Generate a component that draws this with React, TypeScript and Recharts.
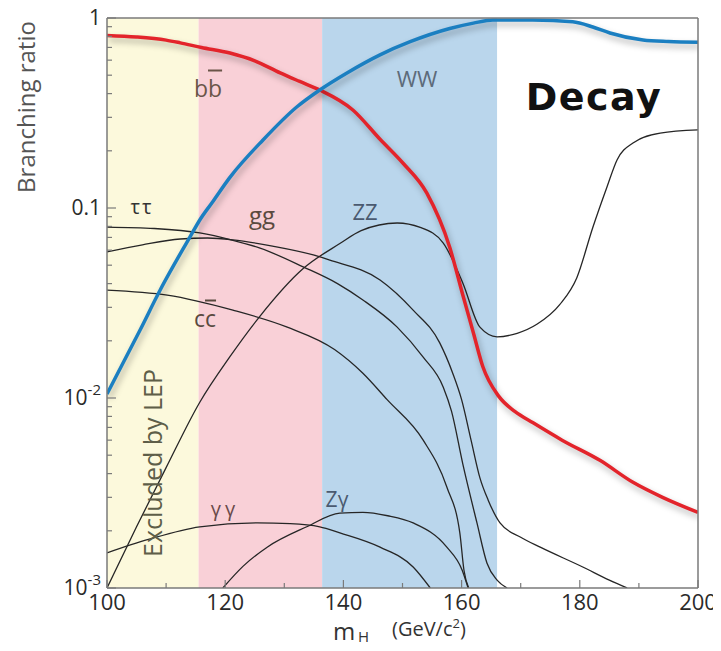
import React from 'react';
import { LineChart, Line, XAxis, YAxis, ReferenceArea } from 'recharts';

type Pair = [number, number];

// Higgs mass (GeV/c^2) vs branching ratio
const bbCurve: Pair[] = [
  [100, 0.81], [105, 0.795], [110, 0.765], [112.4, 0.74], [116, 0.7], [120.8, 0.654],
  [125, 0.595], [129.3, 0.514], [132.5, 0.465], [136, 0.418], [141.6, 0.328], [146.2, 0.23],
  [150.1, 0.172], [154.1, 0.12], [158, 0.062], [160.3, 0.034], [162, 0.022], [163.6, 0.0146],
  [166.3, 0.0102], [169, 0.0085], [172.1, 0.0074], [177, 0.006], [183.4, 0.0047],
  [189, 0.0036], [194, 0.003], [200, 0.0025],
];
const wwCurve: Pair[] = [
  [100, 0.0105], [105.6, 0.0228], [109, 0.037], [114, 0.07], [115.7, 0.0865], [117.8, 0.107],
  [120.8, 0.145], [126.4, 0.228], [132.1, 0.34], [136, 0.418], [140.6, 0.514], [146.2, 0.64],
  [151.3, 0.75], [158, 0.88], [162, 0.94], [165.3, 0.976], [172, 0.975], [178.8, 0.955],
  [182.2, 0.897], [185.1, 0.834], [190.7, 0.766], [195, 0.752], [200, 0.745],
];
const zzCurve: Pair[] = [
  [100, 0.001], [105, 0.0021], [110, 0.0043], [115.7, 0.0095], [120.8, 0.0165], [125.9, 0.027],
  [133.2, 0.048], [139.4, 0.065], [143, 0.076], [149.1, 0.0834], [153, 0.079], [156.9, 0.0654],
  [160.2, 0.0403], [163.1, 0.0236], [166, 0.021], [169.4, 0.0219], [172.8, 0.0245],
  [176.6, 0.031], [179.5, 0.043], [182.2, 0.079], [184.6, 0.129], [186.3, 0.179],
  [189, 0.22], [193.6, 0.248], [200, 0.258],
];
const ggCurve: Pair[] = [
  [100, 0.0587], [106, 0.064], [112.4, 0.0687], [117, 0.0695], [121.3, 0.068], [128, 0.063],
  [134.9, 0.0566], [137.7, 0.0532], [146.2, 0.0418], [151.8, 0.029], [156.3, 0.0195],
  [158.5, 0.0135], [160, 0.0098], [161.6, 0.006], [163.1, 0.0038], [164.5, 0.0029],
  [166.5, 0.0022], [170, 0.00185], [173.3, 0.00164], [180.5, 0.00129], [185, 0.0011], [188, 0.001],
];
const tautauCurve: Pair[] = [
  [100, 0.0794], [108, 0.078], [115.7, 0.0739], [121, 0.068], [125.9, 0.0615], [133.2, 0.049],
  [139, 0.04], [143.3, 0.0328], [149.1, 0.0236], [153.5, 0.0164], [156.9, 0.0114],
  [158.3, 0.0085], [160.2, 0.0045], [162.6, 0.0022], [164.3, 0.00135], [166, 0.0011], [167.7, 0.001],
];
const ccCurve: Pair[] = [
  [100, 0.037], [110.2, 0.0348], [121.3, 0.029], [130.5, 0.0236], [138.5, 0.018], [143.3, 0.0135],
  [147.4, 0.0098], [153.5, 0.006], [157.5, 0.0034], [159.7, 0.00195], [160.4, 0.00124], [161.2, 0.001],
];
const gammaGammaCurve: Pair[] = [
  [100, 0.00153], [107, 0.0018], [115.7, 0.0021], [125.4, 0.0022], [131, 0.00218], [136, 0.0021],
  [139.4, 0.00195], [146.2, 0.00164], [151.8, 0.00129], [154.7, 0.001],
];
const zGammaCurve: Pair[] = [
  [119.6, 0.001], [123, 0.0013], [127.1, 0.00164], [133.8, 0.0021], [139.4, 0.00248],
  [143.3, 0.0025], [147.5, 0.0024], [151.8, 0.0022], [157.5, 0.00164], [160.1, 0.00124], [161.1, 0.001],
];

const massTicks = [100, 110, 120, 130, 140, 150, 160, 170, 180, 190, 200];
const ratioTicks = [
  0.001, 0.002, 0.003, 0.004, 0.005, 0.006, 0.007, 0.008, 0.009,
  0.01, 0.02, 0.03, 0.04, 0.05, 0.06, 0.07, 0.08, 0.09,
  0.1, 0.2, 0.3, 0.4, 0.5, 0.6, 0.7, 0.8, 0.9, 1,
];
const decadeLabels: Record<string, [string, string]> = {
  '1': ['1', ''], '0.1': ['0.1', ''], '0.01': ['10', '-2'], '0.001': ['10', '-3'],
};

// excluded by LEP | pink | blue
const bandEdges = [100, 115.5, 136.4, 166];
const bandColors = ['#fcf9dc', '#f9d0d7', '#bad6ec'];

const font = '"Open Sans", "Noto Sans", sans-serif';
const axisColor = '#7a7a7a';
const thinColor = '#262626';

const toPoints = (c: Pair[]) => c.map(([m, br]) => ({ m, br }));

const thinSeries = [
  { name: 'ZZ', curve: zzCurve },
  { name: 'gg', curve: ggCurve },
  { name: 'tautau', curve: tautauCurve },
  { name: 'cc', curve: ccCurve },
  { name: 'gammagamma', curve: gammaGammaCurve },
  { name: 'Zgamma', curve: zGammaCurve },
];

function BottomTick(props: any) {
  const { x, y, payload } = props;
  const v = payload.value;
  const major = v % 20 === 0;
  return (
    <g>
      <line x1={x} x2={x} y1={y} y2={y - (major ? 8 : 5)} stroke={axisColor} strokeWidth={1.2} />
      {major && (
        <text x={x} y={y + 13} textAnchor="middle" dominantBaseline="central" fontSize={22} fill="#2a2a2a" fontFamily={font}>
          {v}
        </text>
      )}
    </g>
  );
}

function TopTick(props: any) {
  const { x, y, payload } = props;
  const major = payload.value % 20 === 0;
  return <line x1={x} x2={x} y1={y} y2={y + (major ? 8 : 5)} stroke={axisColor} strokeWidth={1.2} />;
}

function LeftTick(props: any) {
  const { x, y, payload } = props;
  const lab = decadeLabels[String(payload.value)];
  return (
    <g>
      <line x1={x} x2={x + (lab ? 9 : 5)} y1={y} y2={y} stroke={axisColor} strokeWidth={1.2} />
      {lab && (
        <text x={x - 6} y={y - 1} textAnchor="end" dominantBaseline="central" fontSize={21} fill="#2a2a2a" fontFamily={font}>
          {lab[0]}
          {lab[1] && <tspan dy={-8} fontSize={15}>{lab[1]}</tspan>}
        </text>
      )}
    </g>
  );
}

function RightTick(props: any) {
  const { x, y, payload } = props;
  const lab = decadeLabels[String(payload.value)];
  return <line x1={x} x2={x - (lab ? 9 : 5)} y1={y} y2={y} stroke={axisColor} strokeWidth={1.2} />;
}

function Note({ x, y, size, color, children, rotate, style }: any) {
  return (
    <div
      style={{
        position: 'absolute', left: x, top: y, fontSize: size, color, lineHeight: 1,
        fontFamily: font, whiteSpace: 'nowrap', pointerEvents: 'none',
        transform: `translate(-50%, -50%)${rotate ? ` rotate(${rotate}deg)` : ''}`,
        ...style,
      }}
    >
      {children}
    </div>
  );
}

export default function App() {
  // negative margin cancels the body margin so the chart uses the whole window
  return (
    <div style={{ position: 'relative', width: 721, height: 651, margin: -8, overflow: 'hidden', background: '#fff' }}>
      <LineChart width={721} height={651} margin={{ top: 16, right: 18, bottom: 28, left: 0 }}>
        <XAxis
          dataKey="m" type="number" domain={[100, 200]} allowDataOverflow ticks={massTicks} interval={0}
          height={35} tickSize={0} tickMargin={0} tickLine={false} tick={<BottomTick />}
          axisLine={{ stroke: axisColor, strokeWidth: 1.5 }}
        />
        <XAxis
          xAxisId="top" orientation="top" dataKey="m" type="number" domain={[100, 200]} ticks={massTicks}
          interval={0} height={2} tickSize={0} tickMargin={0} tickLine={false} tick={<TopTick />}
          axisLine={{ stroke: axisColor, strokeWidth: 1.5 }}
        />
        <YAxis
          type="number" scale="log" domain={[0.001, 1]} allowDataOverflow ticks={ratioTicks} interval={0}
          width={107} tickSize={0} tickMargin={0} tickLine={false} tick={<LeftTick />}
          axisLine={{ stroke: axisColor, strokeWidth: 1.5 }}
        />
        <YAxis
          yAxisId="right" orientation="right" type="number" scale="log" domain={[0.001, 1]} ticks={ratioTicks}
          interval={0} width={5} tickSize={0} tickMargin={0} tickLine={false} tick={<RightTick />}
          axisLine={{ stroke: axisColor, strokeWidth: 1.5 }}
        />
        {bandColors.map((c, i) => (
          <ReferenceArea key={c} x1={bandEdges[i]} x2={bandEdges[i + 1]} fill={c} fillOpacity={1} stroke="none" />
        ))}
        {thinSeries.map(s => (
          <Line
            key={s.name} data={toPoints(s.curve)} dataKey="br" type="monotone" stroke={thinColor}
            strokeWidth={1.3} dot={false} isAnimationActive={false}
          />
        ))}
        <Line
          data={toPoints(bbCurve)} dataKey="br" type="monotone" stroke="#e3242b" strokeWidth={3.5}
          dot={false} isAnimationActive={false} style={{ filter: 'drop-shadow(2px 4px 3px rgba(0,0,0,0.3))' }}
        />
        <Line
          data={toPoints(wwCurve)} dataKey="br" type="monotone" stroke="#1b7fc1" strokeWidth={3.5}
          dot={false} isAnimationActive={false} style={{ filter: 'drop-shadow(2px 4px 3px rgba(0,0,0,0.3))' }}
        />
      </LineChart>

      <Note x={26} y={107} size={24} color="#555" rotate={-90}>Branching ratio</Note>
      <Note x={594} y={97} size={38} color="#111" style={{ fontFamily: '"DejaVu Sans", sans-serif', fontWeight: 700, letterSpacing: 1.5 }}>Decay</Note>
      <Note x={208} y={88} size={23} color="#6a5548">b<span style={{ textDecoration: 'overline' }}>b</span></Note>
      <Note x={417} y={78} size={22} color="#5d6b7a">WW</Note>
      <Note x={142} y={207} size={20} color="#333" style={{ letterSpacing: 2 }}>ττ</Note>
      <Note x={262} y={215} size={24} color="#5a4a40">gg</Note>
      <Note x={205} y={318} size={23} color="#5a4a40">c<span style={{ textDecoration: 'overline' }}>c</span></Note>
      <Note x={365} y={211} size={22} color="#4a5a70">ZZ</Note>
      <Note x={225} y={509} size={20} color="#6a4a4a" style={{ letterSpacing: 4 }}>γγ</Note>
      <Note x={337} y={499} size={21} color="#4a5a70">Zγ</Note>
      <Note x={152} y={463} size={25} color="#5e5e48" rotate={-90}>Excluded by LEP</Note>

      <div style={{ position: 'absolute', left: 333, top: 619, fontSize: 24, lineHeight: 1, fontFamily: font, color: '#333' }}>m</div>
      <div style={{ position: 'absolute', left: 358, top: 629, fontSize: 15, lineHeight: 1, fontFamily: font, color: '#333' }}>H</div>
      <div style={{ position: 'absolute', left: 392, top: 617, fontSize: 20, lineHeight: 1, fontFamily: font, color: '#333', whiteSpace: 'nowrap' }}>
        (GeV/c<sup style={{ fontSize: 13, lineHeight: 1 }}>2</sup>)
      </div>
    </div>
  );
}
